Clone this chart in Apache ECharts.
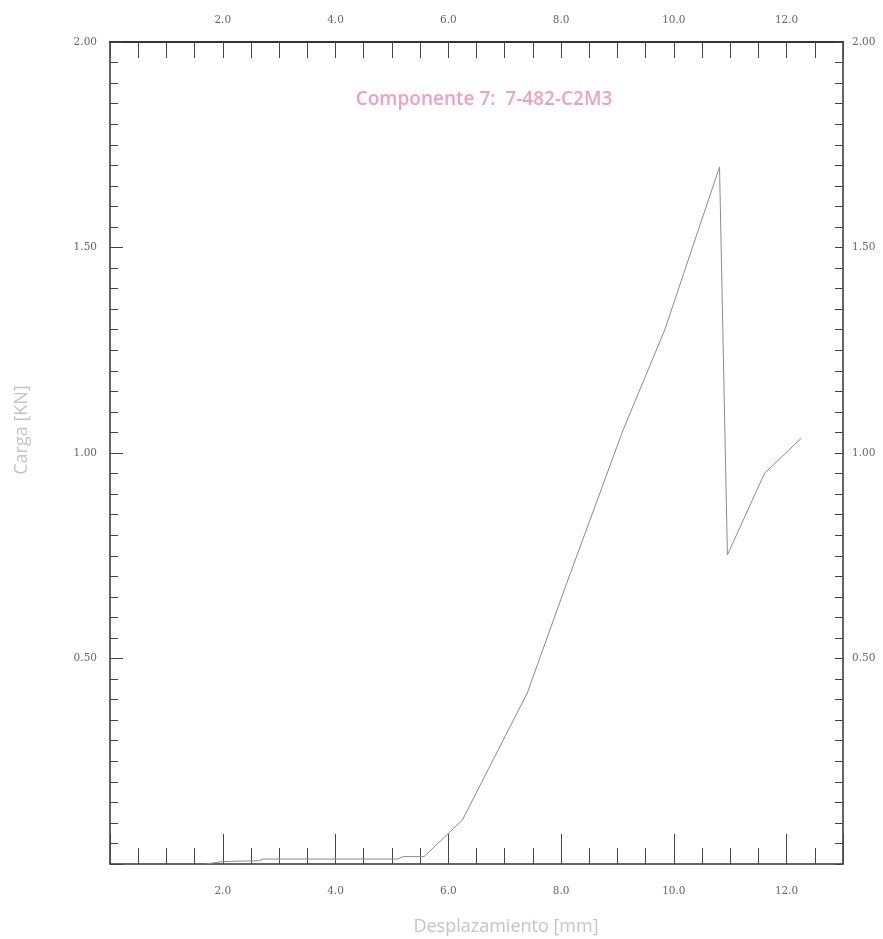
<!DOCTYPE html>
<html>
<head>
<meta charset="utf-8">
<script src="https://cdn.jsdelivr.net/npm/echarts@6/dist/echarts.min.js"></script>
<style>
html,body{margin:0;padding:0;background:#fff;}
#c{width:883px;height:939px;}
</style>
</head>
<body>
<div id="c"></div>
<script>
// Data
const dispMm = [1.70, 2.00, 2.65, 2.70, 5.10, 5.20, 5.57, 6.25, 7.40, 8.07, 9.10, 9.84, 10.81, 10.95, 11.61, 12.26];
const loadKN = [0.000, 0.006, 0.008, 0.012, 0.012, 0.018, 0.018, 0.107, 0.416, 0.672, 1.056, 1.300, 1.696, 0.752, 0.951, 1.036];
const titleText = 'Componente 7:  7-482-C2M3';
const xName = 'Desplazamiento [mm]';
const yName = 'Carga [KN]';
const xRange = [0, 13];
const yRange = [0, 2];

const points = dispMm.map((x, i) => [x, loadKN[i]]);

const labelFont = {fontFamily: 'DejaVu Serif', fontSize: 10.5, color: '#666'};
const axisLineStyle = {color: '#333', width: 1.5};
const tickStyle = {color: '#444', width: 1};

function xLabel(v) {
  const r = Math.round(v);
  if (Math.abs(v - r) < 1e-6 && r > 0 && r % 2 === 0) return r.toFixed(1);
  return '';
}
function yLabel(v) {
  const r = Math.round(v * 2);
  if (Math.abs(v * 2 - r) < 1e-6 && r > 0) return (r / 2).toFixed(2);
  return '';
}

const chart = echarts.init(document.getElementById('c'), null, {renderer: 'canvas'});
chart.setOption({
  backgroundColor: '#fff',
  animation: false,
  title: {
    text: titleText,
    left: 479, top: 85, textAlign: 'center',
    textStyle: {fontFamily: 'Open Sans', fontSize: 19, fontWeight: 600, color: '#f29fbb'}
  },
  grid: {left: 110, right: 40, top: 42, bottom: 75},
  xAxis: [
    { // bottom minor ticks + labels
      type: 'value', position: 'bottom', min: xRange[0], max: xRange[1], interval: 0.5,
      axisLine: {show: true, onZero: false, lineStyle: axisLineStyle},
      axisTick: {show: true, inside: true, length: 16, lineStyle: tickStyle},
      axisLabel: Object.assign({show: true, interval: 0, margin: 22, formatter: xLabel, hideOverlap: false}, labelFont),
      splitLine: {show: false}
    },
    { // bottom major ticks
      type: 'value', position: 'bottom', min: xRange[0], max: xRange[1], interval: 2,
      axisLine: {show: false, onZero: false}, axisTick: {show: true, inside: true, length: 30, lineStyle: tickStyle},
      axisLabel: {show: false}, splitLine: {show: false}
    },
    { // top axis
      type: 'value', position: 'top', min: xRange[0], max: xRange[1], interval: 0.5,
      axisLine: {show: true, onZero: false, lineStyle: {color: '#333', width: 2}},
      axisTick: {show: true, inside: true, length: 16, lineStyle: tickStyle},
      axisLabel: Object.assign({show: true, interval: 0, margin: 16, formatter: xLabel, hideOverlap: false}, labelFont),
      splitLine: {show: false}
    }
  ],
  yAxis: [
    { // left minor ticks + labels
      type: 'value', position: 'left', min: yRange[0], max: yRange[1], interval: 0.05,
      axisLine: {show: true, onZero: false, lineStyle: axisLineStyle},
      axisTick: {show: true, inside: true, length: 8, lineStyle: tickStyle},
      axisLabel: Object.assign({show: true, interval: 0, margin: 13, formatter: yLabel, hideOverlap: false}, labelFont),
      splitLine: {show: false}
    },
    { // left major ticks
      type: 'value', position: 'left', min: yRange[0], max: yRange[1], interval: 0.5,
      axisLine: {show: false, onZero: false}, axisTick: {show: true, inside: true, length: 13, lineStyle: tickStyle},
      axisLabel: {show: false}, splitLine: {show: false}
    },
    { // right axis
      type: 'value', position: 'right', min: yRange[0], max: yRange[1], interval: 0.05,
      axisLine: {show: true, onZero: false, lineStyle: axisLineStyle},
      axisTick: {show: true, inside: true, length: 8, lineStyle: tickStyle},
      axisLabel: Object.assign({show: true, interval: 0, margin: 9, formatter: yLabel, hideOverlap: false}, labelFont),
      splitLine: {show: false}
    }
  ],
  series: [{
    type: 'line', xAxisIndex: 0, yAxisIndex: 0,
    data: points, showSymbol: false, symbol: 'none',
    lineStyle: {color: '#8a8a8a', width: 1}
  }],
  graphic: [
    {type: 'text', x: 506, y: 927, style: {text: xName, fill: '#c4c4c4', font: '18px "Open Sans"', textAlign: 'center', textVerticalAlign: 'middle'}},
    {type: 'text', x: 22, y: 430, rotation: Math.PI / 2, style: {text: yName, fill: '#c4c4c4', font: '18px "Open Sans"', textAlign: 'center', textVerticalAlign: 'middle'}}
  ]
});
</script>
</body>
</html>
